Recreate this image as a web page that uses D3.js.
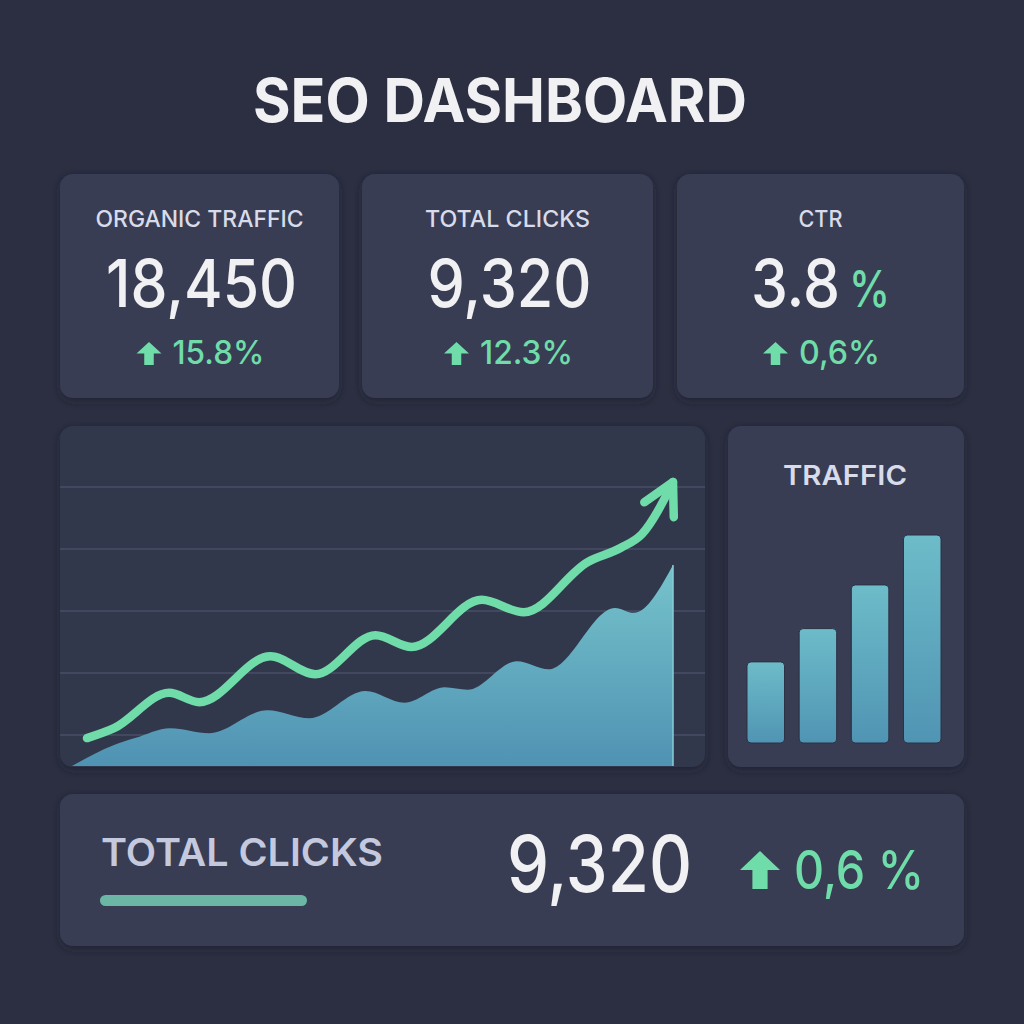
<!DOCTYPE html>
<html>
<head>
<meta charset="utf-8">
<script src="https://cdn.jsdelivr.net/npm/d3@7"></script>
<style>
  html, body { margin: 0; padding: 0; background: #2b2f41; }
  svg { display: block; }
</style>
</head>
<body>
<svg id="chart" width="1024" height="1024"></svg>
<script>
// ---------- DATA ----------
const titleText = "SEO DASHBOARD";
const kpiLabels = ["ORGANIC TRAFFIC", "TOTAL CLICKS", "CTR"];
const kpiValues = ["18,450", "9,320", "3.8"];
const kpiUnits = ["", "", "%"];
const kpiChanges = ["15.8%", "12.3%", "0,6%"];

// trend line (day, value in thousands)
const trendDays   = [0.75, 2.1, 4.85, 6.35, 9.9, 12.15, 15.15, 16.95, 20.45, 22.55, 25.75, 27.4, 28.45, 30];
const trendValues = [4.5, 6.1, 11.8, 10.3, 17.7, 14.8, 21.1, 19.2, 26.8, 24.8, 32.9, 35.2, 37.4, 45.8];

// area series
const areaDays   = [0, 2.1, 3.15, 4.9, 6.85, 9.75, 11.85, 14.65, 16.6, 18.6, 19.75, 22.2, 23.8, 27.1, 28.05, 30];
const areaValues = [0, 3.4, 4.5, 6.1, 5.3, 9.0, 7.7, 12.1, 10.2, 12.7, 12.3, 16.9, 15.6, 25.5, 24.7, 32.4];

const gridTicks = [5, 15, 25, 35, 45];

// traffic bars
const trafficCategories = ["W1", "W2", "W3", "W4"];
const trafficValues = [3.9, 5.5, 7.6, 10.0];
const trafficLabel = "TRAFFIC";

// summary
const summaryLabel = "TOTAL CLICKS";
const summaryValue = "9,320";
const summaryChange = "0,6 %";

// ---------- STYLE ----------
const C = {
  bg: "#2b2f41",
  card: "#373d53",
  cardDark: "#32374c",
  grid: "#42485f",
  green: "#6fdcaa",
  text: "#f1f1f3",
  label: "#d8dbe9",
  label2: "#c4c9de",
  teal: "#6cb6a6"
};
const FONT = "Inter, 'Noto Sans', sans-serif";

const svg = d3.select("#chart");
svg.append("rect").attr("width", 1024).attr("height", 1024).attr("fill", C.bg);

const defs = svg.append("defs");
const shadow = defs.append("filter").attr("id", "shadow").attr("x", "-10%").attr("y", "-10%").attr("width", "120%").attr("height", "130%");
shadow.append("feDropShadow").attr("dx", 0).attr("dy", 3).attr("stdDeviation", 4).attr("flood-color", "#1c1f2c").attr("flood-opacity", 0.6);

const areaGrad = defs.append("linearGradient").attr("id", "areaGrad").attr("x1", 0).attr("y1", 0).attr("x2", 0).attr("y2", 1);
areaGrad.append("stop").attr("offset", "0%").attr("stop-color", "#76c3cb");
areaGrad.append("stop").attr("offset", "100%").attr("stop-color", "#4f92b3");

const barGrad = defs.append("linearGradient").attr("id", "barGrad").attr("x1", 0).attr("y1", 0).attr("x2", 0).attr("y2", 1);
barGrad.append("stop").attr("offset", "0%").attr("stop-color", "#6dbcc9");
barGrad.append("stop").attr("offset", "100%").attr("stop-color", "#5094b3");

// ---------- TITLE ----------
svg.append("text")
  .attr("x", 500).attr("y", 122)
  .attr("text-anchor", "middle")
  .attr("font-family", FONT).attr("font-weight", 700).attr("font-size", 60)
  .attr("fill", C.text)
  .attr("textLength", 494).attr("lengthAdjust", "spacingAndGlyphs")
  .text(titleText);

// ---------- CARDS ----------
function card(x, y, w, h, fill) {
  svg.append("rect").attr("x", x).attr("y", y).attr("width", w).attr("height", h)
    .attr("rx", 13).attr("fill", fill || C.card).attr("filter", "url(#shadow)");
}

function upArrow(g, x, y, w, h) {
  const headH = h * 0.5, stemW = w * 0.38;
  const p = d3.path();
  p.moveTo(x + w / 2, y);
  p.lineTo(x + w, y + headH);
  p.lineTo(x + w / 2 + stemW / 2, y + headH);
  p.lineTo(x + w / 2 + stemW / 2, y + h);
  p.lineTo(x + w / 2 - stemW / 2, y + h);
  p.lineTo(x + w / 2 - stemW / 2, y + headH);
  p.lineTo(x, y + headH);
  p.closePath();
  g.append("path").attr("d", p.toString()).attr("fill", C.green);
}

const kpiCards = [
  { x: 60, w: 279 },
  { x: 362, w: 291 },
  { x: 677, w: 287 }
];
const labelWidths = [208, 165, 44];
const valueWidths = [191, 164, 89];
const changeWidths = [92, 93, 81];

kpiCards.forEach((c, i) => {
  card(c.x, 174, c.w, 224);
  const cx = c.x + c.w / 2;
  svg.append("text")
    .attr("x", cx).attr("y", 227)
    .attr("text-anchor", "middle")
    .attr("font-family", FONT).attr("font-weight", 500).attr("font-size", 23)
    .attr("fill", C.label)
    .attr("textLength", labelWidths[i]).attr("lengthAdjust", "spacingAndGlyphs")
    .text(kpiLabels[i]);

  if (kpiUnits[i]) {
    const unitW = 41, gap = 9;
    const total = valueWidths[i] + gap + unitW;
    const start = cx - total / 2;
    svg.append("text")
      .attr("x", start).attr("y", 307)
      .attr("font-family", FONT).attr("font-weight", 500).attr("font-size", 66)
      .attr("fill", C.text)
      .attr("textLength", valueWidths[i]).attr("lengthAdjust", "spacingAndGlyphs")
      .text(kpiValues[i]);
    svg.append("text")
      .attr("x", start + valueWidths[i] + gap).attr("y", 307)
      .attr("font-family", FONT).attr("font-weight", 500).attr("font-size", 51)
      .attr("fill", C.green)
      .attr("textLength", unitW).attr("lengthAdjust", "spacingAndGlyphs")
      .text(kpiUnits[i]);
  } else {
    svg.append("text")
      .attr("x", cx + 2).attr("y", 307)
      .attr("text-anchor", "middle")
      .attr("font-family", FONT).attr("font-weight", 500).attr("font-size", 66)
      .attr("fill", C.text)
      .attr("textLength", valueWidths[i]).attr("lengthAdjust", "spacingAndGlyphs")
      .text(kpiValues[i]);
  }

  const aW = 25, aH = 23, gap = 11;
  const total = aW + gap + changeWidths[i];
  const start = cx - total / 2 + 1;
  upArrow(svg, start, 342, aW, aH);
  svg.append("text")
    .attr("x", start + aW + gap).attr("y", 364)
    .attr("font-family", FONT).attr("font-weight", 500).attr("font-size", 33)
    .attr("fill", C.green)
    .attr("textLength", changeWidths[i]).attr("lengthAdjust", "spacingAndGlyphs")
    .text(kpiChanges[i]);
});

// ---------- TREND CHART ----------
card(60, 426, 645, 341, C.cardDark);

const x = d3.scaleLinear().domain([0, 30]).range([72, 673]);
const y = d3.scaleLinear().domain([0, 50]).range([766, 456]);

const chartG = svg.append("g");
chartG.selectAll("line.grid")
  .data(gridTicks)
  .join("line")
  .attr("class", "grid")
  .attr("x1", 60).attr("x2", 705)
  .attr("y1", d => y(d)).attr("y2", d => y(d))
  .attr("stroke", C.grid).attr("stroke-width", 2);

const areaData = areaDays.map((d, i) => ({ d, v: areaValues[i] }));
const area = d3.area()
  .x(p => x(p.d))
  .y0(y(0))
  .y1(p => y(p.v))
  .curve(d3.curveMonotoneX);
chartG.append("path")
  .datum(areaData)
  .attr("d", area)
  .attr("fill", "url(#areaGrad)");
chartG.append("line")
  .attr("x1", x(30)).attr("x2", x(30))
  .attr("y1", y(areaValues[areaValues.length - 1])).attr("y2", y(0))
  .attr("stroke", "#86cdd6").attr("stroke-width", 1.5);

const marker = defs.append("marker")
  .attr("id", "arrowHead")
  .attr("markerUnits", "userSpaceOnUse")
  .attr("viewBox", "-40 -25 50 50")
  .attr("markerWidth", 50).attr("markerHeight", 50)
  .attr("refX", 0).attr("refY", 0)
  .attr("orient", "auto")
  .style("overflow", "visible");
marker.append("path")
  .attr("d", "M-31,-16.5 L0,0 L-31,16.5")
  .attr("fill", "none")
  .attr("stroke", C.green).attr("stroke-width", 8.5)
  .attr("stroke-linecap", "round").attr("stroke-linejoin", "round");

const trendData = trendDays.map((d, i) => ({ d, v: trendValues[i] }));
const line = d3.line()
  .x(p => x(p.d))
  .y(p => y(p.v))
  .curve(d3.curveMonotoneX);
chartG.append("path")
  .datum(trendData)
  .attr("d", line)
  .attr("fill", "none")
  .attr("stroke", C.green).attr("stroke-width", 8.5)
  .attr("stroke-linecap", "round").attr("stroke-linejoin", "round")
  .attr("marker-end", "url(#arrowHead)");

// ---------- TRAFFIC BARS ----------
card(728, 426, 236, 341);
svg.append("text")
  .attr("x", 845).attr("y", 485)
  .attr("text-anchor", "middle")
  .attr("font-family", FONT).attr("font-weight", 600).attr("font-size", 27)
  .attr("fill", C.label)
  .attr("textLength", 124).attr("lengthAdjust", "spacingAndGlyphs")
  .text(trafficLabel);

const bx = d3.scaleBand().domain(trafficCategories).range([747, 941]).paddingInner(0.28).paddingOuter(0);
const by = d3.scaleLinear().domain([0, 10]).range([743, 535]);
svg.append("g").selectAll("rect")
  .data(trafficValues)
  .join("rect")
  .attr("x", (d, i) => bx(trafficCategories[i]))
  .attr("y", d => by(d))
  .attr("width", bx.bandwidth())
  .attr("height", d => by(0) - by(d))
  .attr("rx", 4)
  .attr("fill", "url(#barGrad)")
  .attr("stroke", "#2c3043").attr("stroke-width", 1);

// ---------- SUMMARY ----------
card(60, 794, 904, 152);
svg.append("text")
  .attr("x", 101).attr("y", 866)
  .attr("font-family", FONT).attr("font-weight", 600).attr("font-size", 38)
  .attr("fill", C.label2)
  .attr("textLength", 282).attr("lengthAdjust", "spacingAndGlyphs")
  .text(summaryLabel);
svg.append("rect")
  .attr("x", 100).attr("y", 895).attr("width", 207).attr("height", 11)
  .attr("rx", 5.5).attr("fill", C.teal);

svg.append("text")
  .attr("x", 507).attr("y", 892)
  .attr("font-family", FONT).attr("font-weight", 500).attr("font-size", 78)
  .attr("fill", C.text)
  .attr("textLength", 185).attr("lengthAdjust", "spacingAndGlyphs")
  .text(summaryValue);
upArrow(svg, 740, 851, 40, 38);
svg.append("text")
  .attr("x", 794).attr("y", 889)
  .attr("font-family", FONT).attr("font-weight", 500).attr("font-size", 53)
  .attr("fill", C.green)
  .attr("textLength", 130).attr("lengthAdjust", "spacingAndGlyphs")
  .text(summaryChange);
</script>
</body>
</html>
